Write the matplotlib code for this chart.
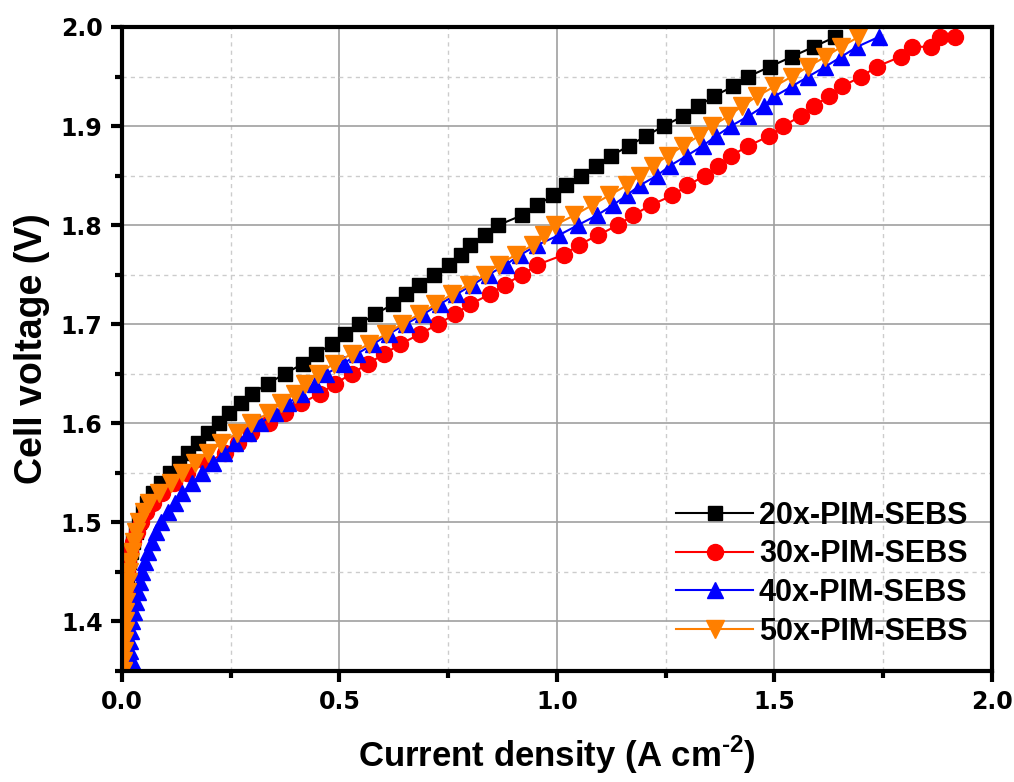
import matplotlib.pyplot as plt
from matplotlib.ticker import MultipleLocator

plt.rcParams['font.family'] = ['Liberation Sans', 'DejaVu Sans']
plt.rcParams['font.weight'] = 'bold'
plt.rcParams['mathtext.fontset'] = 'custom'
plt.rcParams['mathtext.rm'] = 'Liberation Sans:bold'
plt.rcParams['mathtext.bf'] = 'Liberation Sans:bold'

# Napiecie ogniwa (V) - wspolne dla 20x, 40x, 50x
voltage = [1.35, 1.36, 1.37, 1.38, 1.39, 1.40, 1.41, 1.42, 1.43, 1.44,
           1.45, 1.46, 1.47, 1.48, 1.49, 1.50, 1.51, 1.52, 1.53, 1.54,
           1.55, 1.56, 1.57, 1.58, 1.59, 1.60, 1.61, 1.62, 1.63, 1.64,
           1.65, 1.66, 1.67, 1.68, 1.69, 1.70, 1.71, 1.72, 1.73, 1.74,
           1.75, 1.76, 1.77, 1.78, 1.79, 1.80, 1.81, 1.82, 1.83, 1.84,
           1.85, 1.86, 1.87, 1.88, 1.89, 1.90, 1.91, 1.92, 1.93, 1.94,
           1.95, 1.96, 1.97, 1.98, 1.99]

# Gestosc pradu (A cm-2)
j_20x = [0.000, 0.001, 0.002, 0.003, 0.004, 0.005, 0.006, 0.007, 0.009, 0.011,
         0.013, 0.016, 0.020, 0.025, 0.032, 0.040, 0.048, 0.058, 0.072, 0.090,
         0.110, 0.130, 0.152, 0.175, 0.198, 0.222, 0.247, 0.273, 0.300, 0.335,
         0.375, 0.415, 0.447, 0.482, 0.513, 0.545, 0.582, 0.622, 0.652, 0.683,
         0.718, 0.752, 0.780, 0.800, 0.835, 0.865, 0.920, 0.955, 0.990, 1.020,
         1.055, 1.090, 1.125, 1.165, 1.205, 1.245, 1.290, 1.325, 1.360, 1.405,
         1.440, 1.490, 1.540, 1.590, 1.640]

j_40x = [0.030, 0.022, 0.019, 0.018, 0.020, 0.023, 0.028, 0.033, 0.037, 0.041,
         0.047, 0.054, 0.060, 0.069, 0.078, 0.089, 0.105, 0.122, 0.139, 0.162,
         0.185, 0.210, 0.235, 0.260, 0.289, 0.318, 0.352, 0.382, 0.412, 0.443,
         0.470, 0.510, 0.540, 0.578, 0.613, 0.652, 0.692, 0.730, 0.768, 0.807,
         0.843, 0.882, 0.916, 0.955, 1.005, 1.048, 1.092, 1.128, 1.160, 1.190,
         1.230, 1.260, 1.298, 1.335, 1.366, 1.400, 1.440, 1.475, 1.500, 1.540,
         1.578, 1.617, 1.654, 1.690, 1.740]

j_50x = [0.002, 0.003, 0.004, 0.005, 0.006, 0.007, 0.008, 0.010, 0.012, 0.014,
         0.016, 0.019, 0.023, 0.027, 0.032, 0.038, 0.050, 0.062, 0.084, 0.112,
         0.138, 0.168, 0.198, 0.228, 0.265, 0.297, 0.335, 0.365, 0.398, 0.420,
         0.450, 0.487, 0.528, 0.567, 0.607, 0.643, 0.683, 0.720, 0.758, 0.797,
         0.834, 0.866, 0.905, 0.945, 0.970, 0.995, 1.040, 1.080, 1.120, 1.160,
         1.190, 1.220, 1.255, 1.290, 1.326, 1.356, 1.394, 1.425, 1.460, 1.500,
         1.540, 1.578, 1.617, 1.654, 1.693]

# 30x ma dodatkowe punkty na koncu pomiaru
voltage_30x = [1.35, 1.36, 1.37, 1.38, 1.39, 1.40, 1.41, 1.42, 1.43, 1.44,
               1.45, 1.46, 1.47, 1.48, 1.49, 1.50, 1.51, 1.52, 1.53, 1.54,
               1.55, 1.56, 1.57, 1.58, 1.59, 1.60, 1.61, 1.62, 1.63, 1.64,
               1.65, 1.66, 1.67, 1.68, 1.69, 1.70, 1.71, 1.72, 1.73, 1.74,
               1.75, 1.76, 1.77, 1.78, 1.79, 1.80, 1.81, 1.82, 1.83, 1.84,
               1.85, 1.86, 1.87, 1.88, 1.89, 1.90, 1.91, 1.92, 1.93, 1.94,
               1.95, 1.96, 1.97, 1.98, 1.98, 1.99, 1.99]
j_30x = [0.002, 0.002, 0.003, 0.003, 0.004, 0.005, 0.005, 0.006, 0.007, 0.008,
         0.011, 0.014, 0.018, 0.025, 0.034, 0.044, 0.055, 0.072, 0.092, 0.120,
         0.150, 0.195, 0.236, 0.267, 0.297, 0.337, 0.375, 0.412, 0.455, 0.490,
         0.528, 0.565, 0.603, 0.640, 0.685, 0.726, 0.765, 0.800, 0.845, 0.880,
         0.920, 0.955, 1.015, 1.050, 1.095, 1.140, 1.175, 1.215, 1.265, 1.300,
         1.340, 1.370, 1.400, 1.440, 1.488, 1.520, 1.560, 1.590, 1.625, 1.655,
         1.700, 1.735, 1.790, 1.815, 1.860, 1.880, 1.915]

fig = plt.figure(figsize=(10.14, 7.82), dpi=100)
ax = fig.add_axes([0.1203, 0.142, 0.858, 0.8235])

# Krzywe polaryzacji
ax.plot(j_20x, voltage, color='black', marker='s', markersize=10.5, lw=1.5, label='20x-PIM-SEBS')
ax.plot(j_30x, voltage_30x, color='red', marker='o', markersize=11.5, lw=1.5, label='30x-PIM-SEBS')
ax.plot(j_40x, voltage, color='blue', marker='^', markersize=11.5, lw=1.5, label='40x-PIM-SEBS')
ax.plot(j_50x, voltage, color='#FF7F00', marker='v', markersize=12.5, lw=1.5, label='50x-PIM-SEBS')

ax.set_xlim(0, 2.0)
ax.set_ylim(1.35, 2.0)
ax.xaxis.set_major_locator(MultipleLocator(0.5))
ax.xaxis.set_minor_locator(MultipleLocator(0.25))
ax.yaxis.set_major_locator(MultipleLocator(0.1))
ax.yaxis.set_minor_locator(MultipleLocator(0.05))
ax.xaxis.set_major_formatter(plt.FormatStrFormatter('%.1f'))
ax.yaxis.set_major_formatter(plt.FormatStrFormatter('%.1f'))

ax.grid(True, which='major', color='#a0a0a0', lw=1.2, ls='-')
ax.grid(True, which='minor', color='#cccccc', lw=1.0, ls=(0, (3, 3)))
ax.set_axisbelow(True)

for s in ax.spines.values():
    s.set_linewidth(3)
ax.tick_params(which='major', direction='out', length=8, width=3, pad=6)
ax.tick_params(which='minor', direction='out', length=5, width=3)
for lab in ax.get_xticklabels() + ax.get_yticklabels():
    lab.set_fontfamily(['DejaVu Sans'])
    lab.set_fontsize(17)
    lab.set_fontweight('bold')

ax.set_xlabel('Current density (A cm$^{\\text{-2}}$)', fontsize=25, fontweight='bold', labelpad=14)
ax.set_ylabel('Cell voltage (V)', fontsize=27, fontweight='bold', labelpad=8)

ax.legend(loc='lower right', bbox_to_anchor=(1.0, 0.0), frameon=False, fontsize=22,
          handlelength=2.5, handletextpad=0.2, labelspacing=0.28, borderaxespad=0.4)

plt.savefig('out.png', dpi=100)
